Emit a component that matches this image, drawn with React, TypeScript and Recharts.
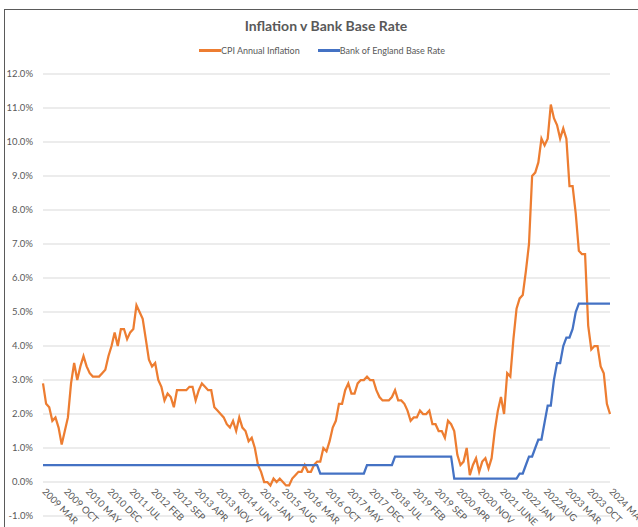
import React from 'react';
import { LineChart, Line, XAxis, YAxis, CartesianGrid, Legend } from 'recharts';

// CPI annual inflation (%), monthly, 2009 MAR .. 2024 MAY
const CPI_2009 = [2.9, 2.3, 2.2, 1.8, 1.9, 1.6, 1.1, 1.5, 1.9, 2.9];
const CPI_2010 = [3.5, 3.0, 3.4, 3.7, 3.4, 3.2, 3.1, 3.1, 3.1, 3.2, 3.3, 3.7];
const CPI_2011 = [4.0, 4.4, 4.0, 4.5, 4.5, 4.2, 4.4, 4.5, 5.2, 5.0, 4.8, 4.2];
const CPI_2012 = [3.6, 3.4, 3.5, 3.0, 2.8, 2.4, 2.6, 2.5, 2.2, 2.7, 2.7, 2.7];
const CPI_2013 = [2.7, 2.8, 2.8, 2.4, 2.7, 2.9, 2.8, 2.7, 2.7, 2.2, 2.1, 2.0];
const CPI_2014 = [1.9, 1.7, 1.6, 1.8, 1.5, 1.9, 1.6, 1.5, 1.2, 1.3, 1.0, 0.5];
const CPI_2015 = [0.3, 0.0, 0.0, -0.1, 0.1, 0.0, 0.1, 0.0, -0.1, -0.1, 0.1, 0.2];
const CPI_2016 = [0.3, 0.3, 0.5, 0.3, 0.3, 0.5, 0.6, 0.6, 1.0, 0.9, 1.2, 1.6];
const CPI_2017 = [1.8, 2.3, 2.3, 2.7, 2.9, 2.6, 2.6, 2.9, 3.0, 3.0, 3.1, 3.0];
const CPI_2018 = [3.0, 2.7, 2.5, 2.4, 2.4, 2.4, 2.5, 2.7, 2.4, 2.4, 2.3, 2.1];
const CPI_2019 = [1.8, 1.9, 1.9, 2.1, 2.0, 2.0, 2.1, 1.7, 1.7, 1.5, 1.5, 1.3];
const CPI_2020 = [1.8, 1.7, 1.5, 0.8, 0.5, 0.6, 1.0, 0.2, 0.5, 0.7, 0.3, 0.6];
const CPI_2021 = [0.7, 0.4, 0.7, 1.5, 2.1, 2.5, 2.0, 3.2, 3.1, 4.2, 5.1, 5.4];
const CPI_2022 = [5.5, 6.2, 7.0, 9.0, 9.1, 9.4, 10.1, 9.9, 10.1, 11.1, 10.7, 10.5];
const CPI_2023 = [10.1, 10.4, 10.1, 8.7, 8.7, 7.9, 6.8, 6.7, 6.7, 4.6, 3.9, 4.0];
const CPI_2024 = [4.0, 3.4, 3.2, 2.3, 2.0];

// Bank of England base rate (%), monthly, 2009 MAR .. 2024 MAY
const BOE_2009 = [0.5, 0.5, 0.5, 0.5, 0.5, 0.5, 0.5, 0.5, 0.5, 0.5];
const BOE_2010 = [0.5, 0.5, 0.5, 0.5, 0.5, 0.5, 0.5, 0.5, 0.5, 0.5, 0.5, 0.5];
const BOE_2011 = [0.5, 0.5, 0.5, 0.5, 0.5, 0.5, 0.5, 0.5, 0.5, 0.5, 0.5, 0.5];
const BOE_2012 = [0.5, 0.5, 0.5, 0.5, 0.5, 0.5, 0.5, 0.5, 0.5, 0.5, 0.5, 0.5];
const BOE_2013 = [0.5, 0.5, 0.5, 0.5, 0.5, 0.5, 0.5, 0.5, 0.5, 0.5, 0.5, 0.5];
const BOE_2014 = [0.5, 0.5, 0.5, 0.5, 0.5, 0.5, 0.5, 0.5, 0.5, 0.5, 0.5, 0.5];
const BOE_2015 = [0.5, 0.5, 0.5, 0.5, 0.5, 0.5, 0.5, 0.5, 0.5, 0.5, 0.5, 0.5];
const BOE_2016 = [0.5, 0.5, 0.5, 0.5, 0.5, 0.5, 0.5, 0.25, 0.25, 0.25, 0.25, 0.25];
const BOE_2017 = [0.25, 0.25, 0.25, 0.25, 0.25, 0.25, 0.25, 0.25, 0.25, 0.25, 0.5, 0.5];
const BOE_2018 = [0.5, 0.5, 0.5, 0.5, 0.5, 0.5, 0.5, 0.75, 0.75, 0.75, 0.75, 0.75];
const BOE_2019 = [0.75, 0.75, 0.75, 0.75, 0.75, 0.75, 0.75, 0.75, 0.75, 0.75, 0.75, 0.75];
const BOE_2020 = [0.75, 0.75, 0.1, 0.1, 0.1, 0.1, 0.1, 0.1, 0.1, 0.1, 0.1, 0.1];
const BOE_2021 = [0.1, 0.1, 0.1, 0.1, 0.1, 0.1, 0.1, 0.1, 0.1, 0.1, 0.1, 0.25];
const BOE_2022 = [0.25, 0.5, 0.75, 0.75, 1.0, 1.25, 1.25, 1.75, 2.25, 2.25, 3.0, 3.5];
const BOE_2023 = [3.5, 4.0, 4.25, 4.25, 4.5, 5.0, 5.25, 5.25, 5.25, 5.25, 5.25, 5.25];
const BOE_2024 = [5.25, 5.25, 5.25, 5.25, 5.25];

const CPI = [
  ...CPI_2009, ...CPI_2010, ...CPI_2011, ...CPI_2012, ...CPI_2013, ...CPI_2014,
  ...CPI_2015, ...CPI_2016, ...CPI_2017, ...CPI_2018, ...CPI_2019, ...CPI_2020,
  ...CPI_2021, ...CPI_2022, ...CPI_2023, ...CPI_2024,
];
const BOE = [
  ...BOE_2009, ...BOE_2010, ...BOE_2011, ...BOE_2012, ...BOE_2013, ...BOE_2014,
  ...BOE_2015, ...BOE_2016, ...BOE_2017, ...BOE_2018, ...BOE_2019, ...BOE_2020,
  ...BOE_2021, ...BOE_2022, ...BOE_2023, ...BOE_2024,
];

const MONTH_NAMES = ['JAN', 'FEB', 'MAR', 'APR', 'MAY', 'JUN', 'JUL', 'AUG', 'SEP', 'OCT', 'NOV', 'DEC'];
const START_YEAR = 2009;
const START_MONTH = 2; // March

// Tick labels shown every 7 months
const TICK_LABELS = [
  '2009 MAR', '2009 OCT', '2010 MAY', '2010 DEC', '2011 JUL', '2012 FEB', '2012 SEP',
  '2013 APR', '2013 NOV', '2014 JUN', '2015 JAN', '2015 AUG', '2016 MAR', '2016 OCT',
  '2017 MAY', '2017 DEC', '2018 JUL', '2019 FEB', '2019 SEP', '2020 APR', '2020 NOV',
  '2021 JUNE', '2022 JAN', '2022AUG', '2023 MAR', '2023 OCT', '2024 MAY',
];
const TICK_STEP = 7;

const Y_TICKS = [-1, 0, 1, 2, 3, 4, 5, 6, 7, 8, 9, 10, 11, 12];

const SERIES_NAMES = ['CPI Annual Inflation', 'Bank of England Base Rate'];
const COLORS = ['#ED7D31', '#4472C4'];

const categories = CPI.map((_, i) => {
  const m = START_MONTH + i;
  return `${START_YEAR + Math.floor(m / 12)} ${MONTH_NAMES[m % 12]}`;
});

const tickLabelFor: Record<string, string> = {};
TICK_LABELS.forEach((lbl, k) => {
  const c = categories[k * TICK_STEP];
  if (c) tickLabelFor[c] = lbl;
});

const data = categories.map((c, i) => ({ month: c, cpi: CPI[i], boe: BOE[i] }));

const FONT = 'Lato, "Open Sans", sans-serif';
const TEXT = '#595959';

const XTick = (props: any) => {
  const { x, y, payload } = props;
  const label = tickLabelFor[payload.value] ?? '';
  return (
    <text
      transform={`translate(${x + 1},${y - 26}) rotate(45)`}
      textAnchor="start"
      dy="0.35em"
      fontSize={9.5}
      fontFamily={FONT}
      fill={TEXT}
    >
      {label}
    </text>
  );
};

const LegendContent = () => (
  <div
    style={{
      display: 'flex',
      justifyContent: 'center',
      alignItems: 'center',
      fontFamily: FONT,
      fontSize: 9,
      color: TEXT,
      paddingLeft: 6,
    }}
  >
    {SERIES_NAMES.map((name, i) => (
      <div key={name} style={{ display: 'flex', alignItems: 'center', marginLeft: i === 0 ? 0 : 18 }}>
        <div style={{ width: 22, height: 2.5, background: COLORS[i] }} />
        <span>{name}</span>
      </div>
    ))}
  </div>
);

export default function App() {
  return (
    <div style={{ position: 'relative', width: 638, height: 527, background: '#fff', overflow: 'hidden' }}>
      <style>{'body{margin:0;}'}</style>
      <div
        style={{
          position: 'absolute',
          left: 4,
          top: 9,
          right: 0,
          bottom: 0,
          borderTop: '1.5px solid #5a5a5a',
          borderLeft: '1.5px solid #5a5a5a',
        }}
      />
      <div
        style={{
          position: 'absolute',
          left: 326,
          top: 17,
          transform: 'translateX(-50%)',
          whiteSpace: 'nowrap',
          fontFamily: FONT,
          fontWeight: 700,
          fontSize: 14,
          color: TEXT,
        }}
      >
        Inflation v Bank Base Rate
      </div>
      <LineChart
        width={638}
        height={527}
        data={data}
        margin={{ top: 74, right: 28, bottom: 10, left: 0 }}
      >
        <CartesianGrid vertical={false} stroke="#D9D9D9" strokeWidth={1} />
        <XAxis
          dataKey="month"
          interval={TICK_STEP - 1}
          tick={<XTick />}
          tickLine={false}
          axisLine={false}
          tickSize={0}
          tickMargin={0}
          height={1}
        />
        <YAxis
          type="number"
          domain={[-1, 12]}
          ticks={Y_TICKS}
          interval={0}
          tickFormatter={(v: number) => `${v.toFixed(1)}%`}
          tick={{ fontSize: 9.5, fontFamily: FONT, fill: TEXT }}
          tickLine={false}
          axisLine={false}
          tickSize={0}
          tickMargin={10}
          width={43}
        />
        <Legend
          verticalAlign="middle"
          align="center"
          layout="horizontal"
          wrapperStyle={{ position: 'absolute', top: 45, left: 0, width: 638, height: 16 }}
          content={<LegendContent />}
        />
        <Line
          type="linear"
          dataKey="cpi"
          name={SERIES_NAMES[0]}
          stroke={COLORS[0]}
          strokeWidth={2.25}
          dot={false}
          isAnimationActive={false}
        />
        <Line
          type="linear"
          dataKey="boe"
          name={SERIES_NAMES[1]}
          stroke={COLORS[1]}
          strokeWidth={2.25}
          dot={false}
          isAnimationActive={false}
        />
      </LineChart>
    </div>
  );
}
